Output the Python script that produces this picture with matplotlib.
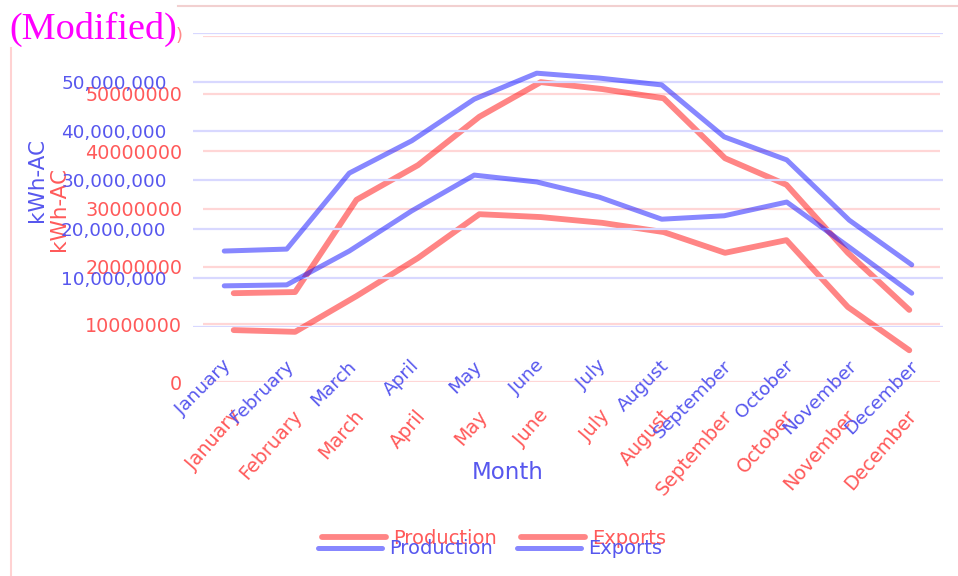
import matplotlib.pyplot as plt
from matplotlib.lines import Line2D
import matplotlib.transforms as mtransforms

MONTHS = ["January", "February", "March", "April", "May", "June",
          "July", "August", "September", "October", "November", "December"]

# original series (red layer)
PRODUCTION = [15_400_000, 15_600_000, 31_600_000, 37_600_000, 46_000_000, 52_000_000,
              50_800_000, 49_200_000, 38_800_000, 34_200_000, 22_400_000, 12_500_000]
EXPORTS = [9_000_000, 8_700_000, 14_900_000, 21_500_000, 29_100_000, 28_600_000,
           27_600_000, 26_000_000, 22_400_000, 24_600_000, 13_000_000, 5_500_000]

# modified series (blue layer)
PRODUCTION_MOD = [15_500_000, 15_900_000, 31_400_000, 38_000_000, 46_500_000, 51_800_000,
                  50_800_000, 49_400_000, 38_800_000, 34_100_000, 21_800_000, 12_700_000]
EXPORTS_MOD = [8_400_000, 8_600_000, 15_500_000, 23_700_000, 31_000_000, 29_600_000,
               26_500_000, 22_000_000, 22_700_000, 25_500_000, 16_300_000, 6_900_000]

Y_TICKS = [0, 10_000_000, 20_000_000, 30_000_000, 40_000_000, 50_000_000, 60_000_000]

W, H = 958, 576
fig = plt.figure(figsize=(W / 100, H / 100), dpi=100)


def px_axes(left, top, right, bottom):
    ax = fig.add_axes([left / W, 1 - bottom / H, (right - left) / W, (bottom - top) / H])
    ax.patch.set_visible(False)
    for s in ax.spines.values():
        s.set_visible(False)
    ax.tick_params(length=0)
    ax.set_xlim(-0.5, 11.5)
    ax.set_ylim(0, 60_000_000)
    return ax


def shift_labels(ax, labels, dx, dy):
    off = mtransforms.ScaledTranslation(dx / 72, dy / 72, fig.dpi_scale_trans)
    for lab in labels:
        lab.set_transform(lab.get_transform() + off)


# ---- red layer ----
RED = "#ff0000"
RED_TXT = "#ff5a5a"
ax_r = px_axes(203, 36, 940, 382)
x = range(len(MONTHS))
ax_r.plot(x, PRODUCTION, color=RED, alpha=0.48, lw=4.2, solid_capstyle="round")
ax_r.plot(x, EXPORTS, color=RED, alpha=0.48, lw=4.2, solid_capstyle="round")
ax_r.set_yticks(Y_TICKS)
ax_r.set_yticklabels([str(v) if v < 60_000_000 else "" for v in Y_TICKS],
                     color=RED_TXT, fontsize=13.8)
ax_r.tick_params(axis="y", pad=15)
ax_r.grid(axis="y", color="#ffd6d6", lw=1.6)
ax_r.set_axisbelow(True)
ax_r.set_xticks(list(x))
ax_r.set_xticklabels(MONTHS, rotation=49, ha="right", va="center",
                     rotation_mode="anchor", color=RED_TXT, fontsize=13.8)
ax_r.tick_params(axis="x", pad=22)
shift_labels(ax_r, ax_r.get_xticklabels(), 3, 0)
ax_r.set_ylabel("kWh-AC", color=RED_TXT, fontsize=15.5)
ax_r.yaxis.set_label_coords((69 - 203) / 737, 0.5)

# ---- blue layer ----
BLUE = "#0000ff"
BLUE_TXT = "#5757ee"
ax_b = px_axes(193, 33, 943, 327)
ax_b.plot(x, PRODUCTION_MOD, color=BLUE, alpha=0.47, lw=3.6, solid_capstyle="round")
ax_b.plot(x, EXPORTS_MOD, color=BLUE, alpha=0.47, lw=3.6, solid_capstyle="round")
ax_b.set_yticks(Y_TICKS)
ax_b.set_yticklabels([f"{v:,}" if 0 < v < 60_000_000 else "" for v in Y_TICKS],
                     color=BLUE_TXT, fontsize=13.2)
ax_b.tick_params(axis="y", pad=19)
ax_b.grid(axis="y", color="#d8d8ff", lw=1.6)
ax_b.set_axisbelow(True)
ax_b.set_xticks(list(x))
ax_b.set_xticklabels(MONTHS, rotation=45, ha="right", va="center",
                     rotation_mode="anchor", color=BLUE_TXT, fontsize=13.3)
ax_b.tick_params(axis="x", pad=26)
shift_labels(ax_b, ax_b.get_xticklabels(), 3, 0)
ax_b.set_ylabel("kWh-AC", color=BLUE_TXT, fontsize=15.5)
ax_b.yaxis.set_label_coords((47 - 193) / 750, 0.5)
ax_b.set_xlabel("Month", color=BLUE_TXT, fontsize=16.5)
ax_b.xaxis.set_label_coords((508 - 193) / 750, (327 - 461) / 294)

# legends
leg_kw = dict(loc="center", ncol=2, frameon=False, fontsize=14,
              handlelength=3.3, handletextpad=0.4, columnspacing=1.2)
red_h = [Line2D([], [], color=RED, alpha=0.48, lw=4.2, solid_capstyle="round")] * 2
fig.legend(red_h, ["Production", "Exports"], bbox_to_anchor=(494 / W, 1 - 538 / H),
           labelcolor=RED_TXT, **leg_kw)
blue_h = [Line2D([], [], color=BLUE, alpha=0.47, lw=3.6, solid_capstyle="round")] * 2
fig.legend(blue_h, ["Production", "Exports"], bbox_to_anchor=(490 / W, 1 - 549 / H),
           labelcolor=BLUE_TXT, **leg_kw)

# frame edges of the red layer
fig.add_artist(Line2D([10.5 / W, 10.5 / W], [0, 1 - 48 / H], color="#ffd2d2", lw=1.5,
                      transform=fig.transFigure))
fig.add_artist(Line2D([178 / W, 1], [1 - 6 / H, 1 - 6 / H], color="#f2d0d0", lw=1.5,
                      transform=fig.transFigure))

fig.text(176 / W, 1 - 36 / H, ")", color="#ff8a8a", fontsize=13, va="center")
fig.text(9 / W, 1 - 29 / H, "(Modified)", color="#ff00ff", fontsize=27.5,
         family="Liberation Serif", va="center")

fig.savefig("out.png", dpi=100)
